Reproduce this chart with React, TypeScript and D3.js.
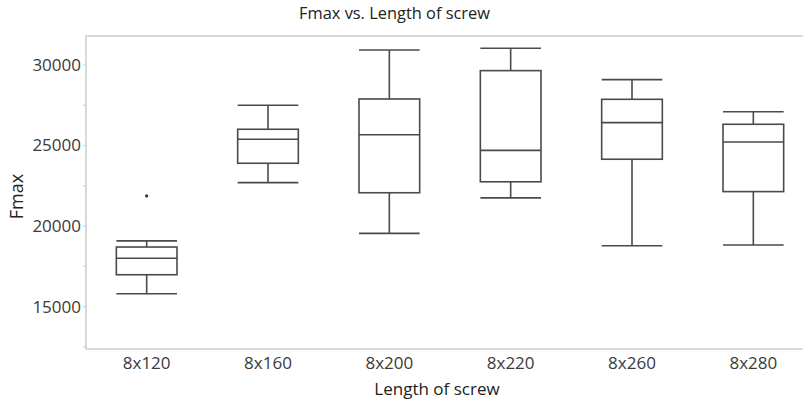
import * as React from "react";
import * as d3 from "d3";

// five-number summaries
const categories = ["8x120", "8x160", "8x200", "8x220", "8x260", "8x280"];
const whiskerLow = [15800, 22700, 19550, 21750, 18780, 18830];
const q1 = [16980, 23900, 22070, 22750, 24150, 22140];
const median = [18000, 25390, 25670, 24700, 26420, 25220];
const q3 = [18700, 26010, 27890, 29650, 27870, 26320];
const whiskerHigh = [19080, 27500, 30930, 31040, 29090, 27100];
const outliers = [{ cat: "8x120", value: 21870 }];
const yTicks = [15000, 20000, 25000, 30000];
const yMinorTicks = [12500, 17500, 22500, 27500];

const W = 803;
const H = 403;
const margin = { left: 86, top: 36, right: -11, bottom: 54 };
const font = "'Open Sans', 'Noto Sans', sans-serif";
const stroke = "#4a4a4a";

export default function App() {
  const x = d3
    .scaleBand<string>()
    .domain(categories)
    .range([margin.left, W - margin.right])
    .paddingInner(0)
    .paddingOuter(0);
  const y = d3
    .scaleLinear()
    .domain([12370, 31800])
    .range([H - margin.bottom, margin.top]);

  const bw = x.bandwidth() * 0.5;
  const top = margin.top;
  const bottom = H - margin.bottom;

  return (
    <svg
      width={W}
      height={H}
      style={{ position: "fixed", left: 0, top: 0, background: "#fff" }}
      fontFamily={font}
    >
      <text x={394.5} y={19} textAnchor="middle" fontSize={16.4} fill="#222">
        Fmax vs. Length of screw
      </text>

      {/* frame: the right side runs off the picture */}
      <g stroke="#d9d9d9" strokeWidth={2}>
        <line x1={margin.left} x2={W + 5} y1={top} y2={top} />
        <line x1={margin.left} x2={W + 5} y1={bottom} y2={bottom} />
        <line x1={margin.left} x2={margin.left} y1={top - 1} y2={bottom + 1} />
      </g>

      {/* y ticks */}
      {yMinorTicks.concat(yTicks).map((t) => (
        <line
          key={"t" + t}
          x1={margin.left - 3}
          x2={margin.left}
          y1={y(t)}
          y2={y(t)}
          stroke="#ccc"
          strokeWidth={1}
        />
      ))}
      {yTicks.map((t) => (
        <text
          key={t}
          x={margin.left - 5}
          y={y(t)}
          dy="0.35em"
          textAnchor="end"
          fontSize={17}
          fill="#3a3a3a"
        >
          {t}
        </text>
      ))}

      {/* x labels */}
      {categories.map((c) => (
        <text
          key={c}
          x={x(c)! + x.bandwidth() / 2}
          y={369}
          textAnchor="middle"
          fontSize={17}
          fill="#3a3a3a"
        >
          {c}
        </text>
      ))}

      <text x={437} y={395} textAnchor="middle" fontSize={17} fill="#222">
        Length of screw
      </text>
      <text
        transform={`translate(23,196.5) rotate(-90)`}
        textAnchor="middle"
        fontSize={18}
        fill="#222"
      >
        Fmax
      </text>

      {/* boxes */}
      {categories.map((c, i) => {
        const cx = x(c)! + x.bandwidth() / 2;
        const l = cx - bw / 2;
        const r = cx + bw / 2;
        return (
          <g key={"b" + c} stroke={stroke} strokeWidth={1.6} fill="none">
            <line x1={cx} x2={cx} y1={y(whiskerHigh[i])} y2={y(q3[i])} />
            <line x1={cx} x2={cx} y1={y(q1[i])} y2={y(whiskerLow[i])} />
            <line x1={l} x2={r} y1={y(whiskerHigh[i])} y2={y(whiskerHigh[i])} />
            <line x1={l} x2={r} y1={y(whiskerLow[i])} y2={y(whiskerLow[i])} />
            <rect x={l} y={y(q3[i])} width={bw} height={y(q1[i]) - y(q3[i])} />
            <line x1={l} x2={r} y1={y(median[i])} y2={y(median[i])} />
          </g>
        );
      })}
      {outliers.map((o, i) => (
        <circle
          key={"o" + i}
          cx={x(o.cat)! + x.bandwidth() / 2}
          cy={y(o.value)}
          r={1.6}
          fill="#333"
        />
      ))}
    </svg>
  );
}
